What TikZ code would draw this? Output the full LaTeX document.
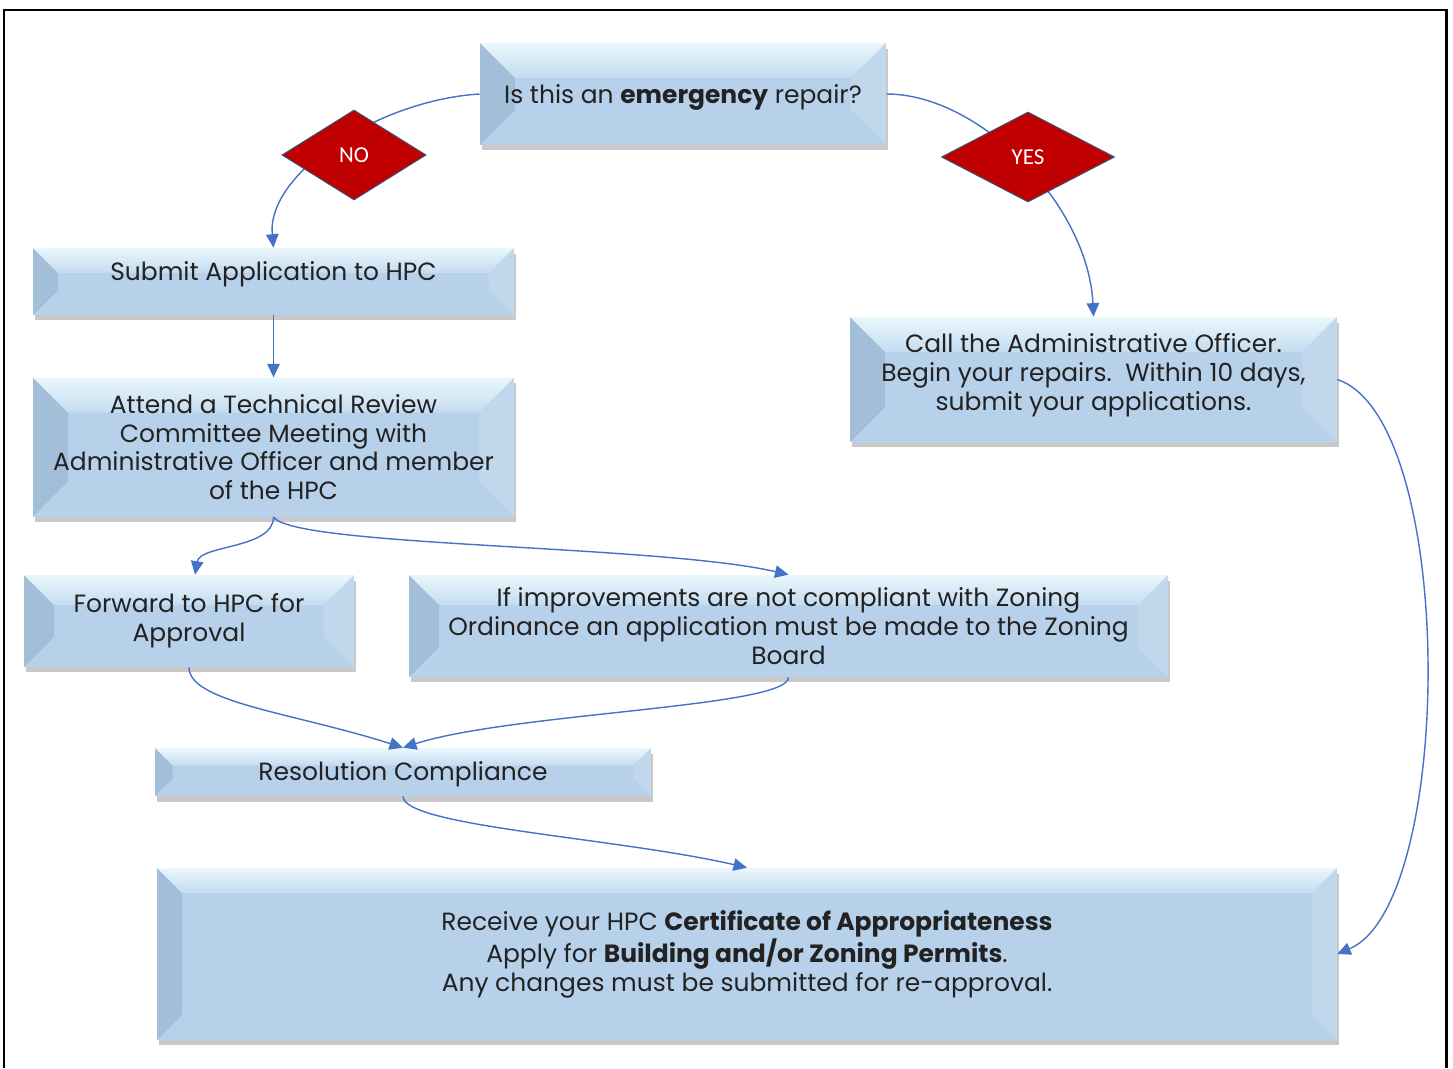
\documentclass[tikz,border=0pt]{standalone}
\usepackage{fontspec}
\setmainfont{Poppins}
\newfontfamily\decfont{Carlito}
\usetikzlibrary{arrows.meta,positioning,shapes.geometric,shadows}
\definecolor{boxfill}{HTML}{B8D1EA}
\definecolor{bevleft}{HTML}{A3BED9}
\definecolor{bevright}{HTML}{C1D7EC}
\definecolor{bevtop}{HTML}{EAF7FC}
\definecolor{bevtopb}{HTML}{C4DCF0}
\definecolor{arrowblue}{HTML}{4472C4}
\definecolor{decred}{HTML}{C00000}
\definecolor{decedge}{HTML}{3F4F6F}
\definecolor{boxtext}{HTML}{222222}
\newcommand{\boxfont}{\fontsize{14.2pt}{16.4pt}\selectfont}
\tikzset{
  bevelbox/.style={
    fill=boxfill,
    align=center,
    inner sep=2pt,
    text=boxtext,
    font=\boxfont,
    drop shadow={shadow xshift=0.4mm, shadow yshift=-1.1mm, opacity=0.3, fill=black!70},
    path picture={
      \path (path picture bounding box.north west) coordinate (bv-nw)
            (path picture bounding box.north east) coordinate (bv-ne)
            (path picture bounding box.south east) coordinate (bv-se)
            (path picture bounding box.south west) coordinate (bv-sw);
      \fill[bevleft] (bv-nw) -- ([shift={(#1,-#1)}]bv-nw)
        -- ([shift={(#1,#1)}]bv-sw) -- (bv-sw) -- cycle;
      \fill[bevright] (bv-ne) -- ([shift={(-#1,-#1)}]bv-ne)
        -- ([shift={(-#1,#1)}]bv-se) -- (bv-se) -- cycle;
      \shade[top color=bevtop, bottom color=bevtopb] (bv-nw)
        -- ([shift={(#1,-#1)}]bv-nw) -- ([shift={(-#1,-#1)}]bv-ne) -- (bv-ne) -- cycle;
    }
  },
  bevelbox/.default=0.6cm,
  decision/.style={
    diamond,
    fill=decred,
    draw=decedge,
    line width=0.6pt,
    inner sep=0pt,
    text=white,
    font=\decfont\fontsize{13pt}{15pt}\selectfont
  },
  connector/.style={
    -{Triangle[length=2.7mm,width=2.5mm]},
    line width=0.8pt,
    draw=arrowblue
  }
}

\begin{document}
\begin{tikzpicture}[x=0.02cm, y=-0.02cm]
  \useasboundingbox (0,0) rectangle (1453,1068);
  \draw[line width=1.7pt] (4,1068) -- (4,10) -- (1446,10) -- (1446,1068);

  \node[bevelbox=0.7cm, minimum width=8.12cm, minimum height=2.04cm, text height=0.5cm] (emergency) at (683,94)
    {Is this an \textbf{emergency} repair?};
  \node[bevelbox=0.5cm, minimum width=9.62cm, minimum height=1.34cm, text depth=0.42cm] (submit) at (273.5,281.5)
    {Submit Application to HPC};
  \node[bevelbox=0.7cm, minimum width=9.62cm, minimum height=2.78cm, below=1.24cm of submit] (attend)
    {Attend a Technical Review\\Committee Meeting with\\Administrative Officer and member\\of the HPC};
  \node[bevelbox=0.7cm, minimum width=9.74cm, minimum height=2.5cm] (callofficer) at (1093.5,379.5)
    {Call the Administrative Officer.\\Begin your repairs.\ \ Within 10 days,\\submit your applications.\\[-0.28cm]\mbox{}};
  \node[bevelbox=0.6cm, minimum width=6.6cm, minimum height=1.84cm] (forward) at (189,621)
    {Forward to HPC for\\Approval};
  \node[bevelbox=0.6cm, minimum width=15.18cm, minimum height=2.04cm] (zoning) at (788.5,626)
    {If improvements are not compliant with Zoning\\Ordinance an application must be made to the Zoning\\Board};
  \node[bevelbox=0.35cm, minimum width=9.92cm, minimum height=0.96cm, text height=0.45cm] (resolution) at (403,772)
    {Resolution Compliance};
  \node[bevelbox=0.5cm, minimum width=23.6cm, minimum height=3.44cm] (certificate) at (747,954)
    {Receive your HPC \textbf{Certificate of Appropriateness}\\Apply for \textbf{Building and/or Zoning Permits}.\\Any changes must be submitted for re-approval.};

  % connectors
  \draw[connector] (emergency.west) .. controls +(-100,6) and +(-7,-75) .. (submit.north);
  \draw[connector] (emergency.east) .. controls +(95,0) and +(-5,-110) .. (callofficer.north);
  \draw[connector] (submit) -- (attend);
  \draw[connector] (attend.south) .. controls +(0,32) and +(5,-30) .. ([xshift=0.12cm]forward.north);
  \draw[connector] (attend.south) .. controls +(20,30) and +(-130,-30) .. (zoning.north);
  \draw[connector] (forward.south) .. controls +(0,35) and +(-110,-35) .. (resolution.north);
  \draw[connector] (zoning.south) .. controls +(0,30) and +(110,-35) .. (resolution.north);
  \draw[connector] (resolution.south) .. controls +(0,30) and +(-130,-30) .. (certificate.north);
  \draw[connector] (callofficer.east) .. controls +(120,40) and +(118,-50) .. (certificate.east);

  % decisions sit on top of the curves
  \node[decision, minimum width=2.88cm, minimum height=1.8cm] (no) at (354,155) {NO};
  \node[decision, minimum width=3.46cm, minimum height=1.8cm] (yes) at (1028,157) {YES};
\end{tikzpicture}
\end{document}
